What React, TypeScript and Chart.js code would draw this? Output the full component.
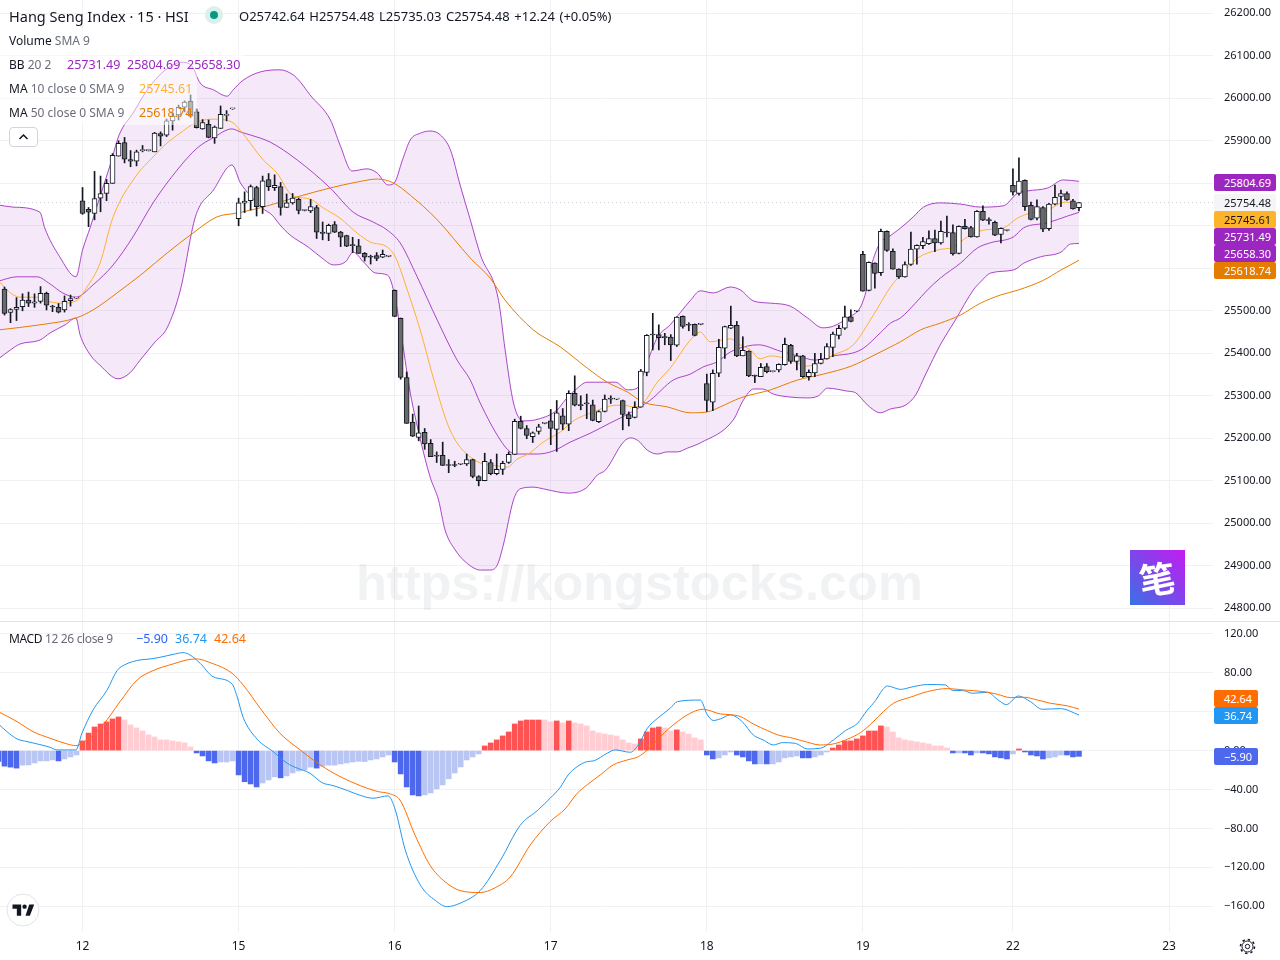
import React, { useEffect, useRef } from "react";
import { Chart, registerables } from "chart.js";

Chart.register(...registerables);

const FONT = '"Noto Sans", sans-serif';
const firstBar = -13;

const opens = [25551,25496,25503,25510,25525,25518,25522,25541,25510,25508,25502,25524,25530,
25759,25739,25729,25765,25776,25800,25864,25896,25856,25852,
25877,25877,25874,25917,25913,25947,25961,25979,25993,25968,
25928,25939,25907,25929,25960,25975,25717,25753,25759,25790,
25745,25809,25790,25792,25743,25754,25762,25736,25735,25743,
25685,25682,25703,25685,25677,25656,25653,25635,25628,25630,
25626,25628,25548,25482,25343,25238,25202,25214,25188,25159,
25160,25138,25138,25139,25140,25150,25110,25100,25143,25117,
25127,25143,25162,25240,25223,25204,25216,25235,25241,25221,
25253,25233,25306,25279,25282,25279,25239,25263,25293,25292,
25289,25256,25249,25273,25355,25444,25444,25438,25438,25419,
25487,25467,25468,25468,25329,25285,25353,25412,25459,25466,
25394,25405,25347,25345,25369,25357,25361,25373,25419,25381,
25394,25345,25354,25376,25387,25414,25442,25459,25486,25499,
25633,25548,25612,25590,25687,25640,25598,25580,25609,25645,
25653,25658,25670,25660,25684,25684,25635,25699,25696,25674,
25734,25713,25708,25680,25689,25795,25776,25807,25748,25718,
25743,25693,25751,25769,25776,25759,25742.64];

const closes = [25494,25503,25508,25525,25518,25521,25541,25513,25509,25497,25522,25529,25530,
25729,25732,25764,25776,25800,25866,25894,25857,25852,25874,
25877,25877,25918,25911,25947,25958,25979,25991,25958,25931,
25943,25908,25932,25962,25960,25975,25754,25758,25792,25745,
25806,25792,25795,25743,25754,25765,25736,25736,25745,25685,
25682,25701,25685,25673,25652,25653,25635,25626,25626,25623,
25633,25628,25487,25343,25235,25205,25213,25187,25157,25158,
25136,25136,25136,25139,25150,25110,25100,25146,25117,25127,
25141,25162,25240,25223,25207,25213,25227,25235,25223,25260,
25233,25306,25278,25277,25281,25242,25263,25292,25292,25292,
25256,25246,25273,25358,25442,25443,25437,25437,25420,25485,
25463,25466,25442,25468,25289,25353,25414,25463,25466,25394,
25407,25347,25346,25367,25357,25357,25374,25421,25381,25394,
25345,25355,25376,25386,25416,25445,25459,25486,25475,25499,
25546,25614,25588,25687,25642,25598,25580,25609,25645,25654,
25663,25670,25660,25687,25683,25634,25699,25693,25674,25734,
25713,25712,25678,25694,25689,25779,25805,25745,25715,25745,
25692,25751,25767,25776,25761,25740,25754.48];

const highs = [25556,25505,25531,25540,25544,25540,25557,25544,25513,25517,25535,25537,25531,
25790,25743,25828,25817,25809,25870,25900,25908,25877,25878,
25889,25878,25920,25921,25951,25966,25984,25994,26008,25975,
25950,25949,25935,25982,25971,25976,25765,25780,25796,25793,
25817,25823,25820,25802,25775,25776,25765,25737,25762,25748,
25709,25704,25710,25687,25678,25673,25668,25637,25631,25637,
25643,25629,25549,25483,25356,25257,25276,25223,25197,25168,
25191,25150,25146,25140,25163,25151,25112,25165,25150,25163,
25146,25168,25245,25252,25230,25215,25233,25236,25268,25289,
25270,25312,25347,25300,25304,25290,25265,25302,25300,25293,
25290,25262,25286,25362,25444,25494,25467,25447,25444,25486,
25488,25472,25469,25469,25351,25361,25433,25464,25511,25475,
25439,25406,25349,25376,25376,25358,25375,25436,25421,25400,
25395,25361,25400,25400,25423,25450,25466,25511,25502,25500,
25640,25615,25613,25692,25688,25646,25599,25615,25685,25655,
25673,25688,25690,25711,25723,25702,25700,25715,25699,25736,
25747,25719,25711,25695,25690,25834,25860,25808,25756,25761,
25745,25753,25796,25784,25780,25762,25754.48];

const lows = [25490,25472,25477,25500,25510,25508,25518,25502,25498,25495,25497,25511,25529,
25727,25698,25714,25733,25759,25800,25864,25848,25839,25841,
25874,25876,25874,25888,25910,25925,25949,25968,25955,25930,
25927,25907,25894,25929,25947,25974,25700,25731,25737,25723,
25729,25783,25783,25725,25743,25751,25728,25735,25731,25670,
25667,25665,25684,25651,25651,25637,25635,25617,25610,25618,
25625,25627,25486,25339,25235,25204,25194,25174,25157,25143,
25136,25119,25133,25138,25136,25107,25088,25100,25114,25114,
25115,25141,25162,25222,25199,25190,25210,25234,25185,25169,
25220,25218,25276,25267,25246,25241,25237,25262,25282,25291,
25220,25229,25248,25273,25347,25408,25408,25420,25383,25416,
25459,25453,25441,25467,25263,25265,25345,25388,25458,25392,
25394,25345,25331,25345,25354,25356,25356,25372,25376,25361,
25343,25337,25345,25375,25386,25392,25434,25456,25474,25498,
25546,25547,25553,25583,25640,25598,25576,25579,25607,25610,
25646,25656,25639,25657,25674,25631,25634,25692,25673,25673,
25712,25704,25677,25660,25688,25772,25772,25736,25714,25714,
25686,25689,25749,25745,25760,25739,25735.03];

const upperBars = [-14,-11.6,-7.1,-6.3,-3.8,-1.1,0,1.3,2.9,4.6,6.1,8.4,10.8,13.4,16.6,18.3,19.6,21.8,24.1,25.1,26.8,29.6,32.9,35.1,36.3,37.9,41.3,42.9,44.9,47.4,49.1,50.9,51.9,53.3,54.6,56.3,57.9,59.6,61.3,62.9,64.6,66.3,69.3,70.4,71.8,73.4,75.9,79.1,80.4,82.1,84.1,86.8,88.8,90.8,92.4,94.1,95.8,97.9,101.3,102.9,105.1,107.9,109.6,111.8,114.6,117.9,120.8,123.3,125.1,127.4,129.6,130.6,131.6,132.9,134.3,136.3,138.4,140.1,142.9,146.3,149.6,153.4,155.8,157.4,160.8,163.4,166];
const upperValues = [25749,25744,25732,25695,25627,25580,25643,25697,25768,25843,25914,25965,26020,26062,26085,26074,26036,26020,26005,26020,26043,26062,26067,26055,26038,26008,25949,25890,25829,25834,25824,25796,25800,25855,25902,25918,25923,25914,25878,25796,25714,25631,25525,25408,25283,25241,25245,25267,25290,25314,25332,25332,25332,25314,25318,25380,25438,25467,25525,25547,25542,25556,25549,25523,25518,25511,25483,25460,25464,25483,25509,25549,25615,25660,25674,25695,25721,25744,25754,25751,25744,25747,25777,25782,25789,25808,25804.69];

const lowerBars = [-14,-12,-10.4,-7.1,-5.4,-2.9,-1.1,-0.4,1.3,2.9,5.9,7.9,9.6,12.1,14.1,16.3,18.8,21.8,24.9,26.3,27.9,29.9,31.6,32.9,34.6,37.6,39.9,41.8,43.8,45.1,46.8,48.8,50.8,51.8,52.9,54.6,56.3,57.9,59.3,60.4,62.1,63.8,66.3,67.9,69.1,70.1,71.8,72.9,75.1,76.8,79.1,80.9,83.9,85.8,87.1,90.1,91.3,92.6,94.1,95.8,97.4,99.1,100.8,102.9,108.4,110.1,111.8,113.3,115.1,117.9,120.8,122.6,124.1,127.4,128.8,130.8,132.9,134.6,137.1,138.8,140.4,142.9,145.4,148.4,149.6,151.3,155.1,156.8,159.6,163,164.6,166];
const lowerValues = [25387,25408,25422,25431,25448,25467,25483,25443,25396,25372,25340,25354,25384,25427,25460,25549,25721,25784,25843,25801,25772,25742,25725,25702,25678,25650,25624,25608,25615,25638,25615,25589,25584,25549,25462,25307,25196,25109,25055,24984,24937,24909,24890,24890,24902,24949,25055,25081,25085,25081,25074,25071,25083,25114,25125,25191,25201,25194,25172,25163,25168,25168,25177,25189,25243,25290,25316,25316,25304,25297,25295,25300,25318,25311,25307,25278,25260,25269,25278,25302,25349,25420,25478,25549,25568,25589,25596,25612,25627,25638,25657,25658.3];

const basisBars = [-14,-10.9,-7.6,-5.4,-3.3,-1.1,1.75,5.1,8.4,11.75,15.75,19.1,21.75,24.9,26.25,27.9,31.25,35.75,41.25,45.1,48.4,50.75,52.9,55.75,59.1,62.4,64.6,66.25,69.6,71.25,72.6,75.75,78.4,81.25,84.6,87.9,91.25,94.6,98.4,101.25,103.4,105.75,107.9,110.75,112.6,116.25,119.1,122.1,125.1,128.4,130.1,132.9,134.6,136.25,138.75,140.75,142.9,146.25,149.1,151.25,155.1,156.75,160.75,164.1,166];
const basisValues = [25570,25580,25580,25563,25542,25532,25561,25608,25674,25754,25831,25883,25907,25928,25921,25914,25897,25855,25789,25732,25709,25690,25660,25580,25478,25384,25337,25283,25196,25168,25163,25163,25170,25191,25212,25236,25260,25290,25337,25351,25368,25380,25403,25417,25420,25405,25394,25384,25394,25401,25412,25448,25471,25483,25518,25549,25577,25612,25648,25660,25674,25695,25707,25723,25731.49];

const ma10Bars = [-14,-12.6,-10.4,-7.6,-5.4,-3.3,-1.1,0.75,2.9,5.1,8.9,11.75,14.1,16.25,18.75,21.75,24.9,26.25,30.1,32.4,34.9,37.9,40.1,42.9,45.75,47.9,50.75,52.1,54.1,56.25,58.4,60.75,62.4,64.6,66.25,69.1,70.75,72.4,74.25,76.75,79.6,81.75,85.1,87.9,90.1,91.75,93.4,95.75,97.9,101.25,102.9,104.6,107.9,109.6,111.25,112.9,114.6,116.25,119.1,120.75,122.9,125.1,128.4,131.75,134.6,136.25,139.1,142.4,145.1,147.4,150.1,153.4,155.75,157.9,160.75,163.75,166];
const ma10Values = [25572,25549,25532,25532,25521,25518,25523,25556,25612,25721,25817,25862,25895,25918,25942,25951,25944,25925,25855,25824,25772,25763,25742,25718,25683,25662,25650,25627,25549,25455,25344,25236,25189,25156,25142,25135,25132,25151,25163,25191,25215,25241,25262,25276,25278,25274,25283,25332,25365,25431,25450,25427,25434,25420,25408,25387,25394,25391,25377,25370,25380,25396,25420,25490,25556,25584,25624,25643,25650,25674,25690,25695,25718,25730,25737,25756,25745.61];

const ma50Bars = [-14,-7.1,-1.1,1.75,5.75,10.1,14.1,18.4,22.4,25.75,30.1,35.75,41.25,45.75,49.1,51.75,54.6,59.1,64.6,67.9,70.4,75.1,79.6,84.1,87.4,90.75,93.4,97.4,101.25,104.1,106.25,109.6,114.6,119.1,123.4,128.1,131.25,134.6,136.25,139.6,142.9,146.25,149.6,152.9,155.9,160.1,163,166];
const ma50Values = [25455,25467,25483,25502,25542,25589,25636,25683,25721,25730,25744,25768,25789,25803,25810,25801,25772,25714,25624,25577,25525,25455,25415,25365,25332,25309,25285,25274,25260,25262,25274,25295,25314,25337,25351,25370,25391,25415,25427,25455,25471,25490,25518,25537,25549,25572,25596,25618.74];

const macdBars = [-14,-12.6,-10.9,-9.25,-7.1,-5.4,-4.25,-1.1,-0.1,1.75,4.1,5.75,7.1,9.6,10.9,12.9,15.1,16.75,17.9,19.6,21.75,24.9,25.75,26.75,29.1,31.75,34.1,35.75,37.9,39.9,41.75,44.1,46.25,48.4,50.9,52.1,53.75,56.25,58.75,60.75,62.9,66.25,69.6,72.9,75.9,77.9,79.6,80.9,82.4,84.1,85.1,87.4,88.75,91.25,92.6,94.1,95.75,97.9,99.1,102.9,104.1,105.1,106.25,107.9,109.9,111.75,113.4,115.1,116.6,118.75,120.75,122.9,125.1,127.1,129.1,130.75,132.1,133.25,134.1,136.25,138.4,140.75,143.75,144.9,146.75,148.25,150.75,152.4,153.9,155.9,157.9,159.9,162.9,166];
const macdValues = [27.4,19.5,12,9.3,6.2,3.4,0.7,0.7,17.8,41.8,62.4,82.3,88.5,93.3,94,96,99,100.8,98.4,89.8,76,68.6,55.6,34.3,11.7,-1,-13,-18,-23.3,-33,-36,-41,-46,-49,-46.6,-61,-102,-138,-154,-160.5,-157,-144,-113,-77,-61,-49,-37.7,-25,-16.5,-11.3,-10.6,-2.7,0.7,-1.7,5.8,23,33,43.6,50.4,52,36.7,31,32.6,36.7,29.8,16,11,5.8,8.2,7.5,1.7,2.4,11,20.6,28,41.8,51.4,62.4,66.5,63,65.8,68,67.6,62,61.7,59,60,52.8,47.3,56.2,50.4,42.5,43.2,36.74];

const signalBars = [-14,-10.9,-8.25,-5.4,-2.6,-1.1,0.75,3.4,6.25,9.1,11.75,15.1,17.4,19.1,20.75,24.9,26.75,29.6,32.9,36.25,39.6,42.9,46.25,49.1,51.25,52.9,55.4,57.9,60.4,62.9,66.25,68.75,71.25,74.6,77.9,80.4,82.4,84.1,86.25,88.4,90.75,92.6,94.1,96.25,99.1,101.75,103.4,106.25,107.9,109.6,111.75,114.1,115.9,118.4,120.75,122.9,125.1,127.4,129.6,131.75,133.4,135.1,137.9,140.75,144.1,146.75,150.1,152.4,154.6,156.75,159.1,161.25,164.1,166];
const signalValues = [40,29.8,19.5,12.7,6.9,5.1,11,26.4,50.4,72.7,82.3,89.2,93.3,94.3,91.6,79.6,67.6,43.6,17.8,0.7,-14.7,-26.7,-36,-42,-44.6,-51,-87,-118,-135,-144,-146,-141,-130,-97,-73,-60,-44,-35,-25,-14.7,-9.6,-6.2,0.7,14.4,29.8,40,42.5,37.7,37,35,27.4,20.6,16,12.7,8.6,5.8,6.9,11.7,18.5,29.8,40,48.7,54.9,60.7,63.8,62.4,60.7,58,54.5,54.9,52,48.7,46,42.64];

const histFirstBar = -14;
const histValues = [-11,-16,-17,-18,-15,-14.7,-12.7,-10.6,-10.6,-9.6,-10.6,-8.6,-6.5,-4.5,
10,18,24.3,27.4,29.5,32.6,34.6,31.5,26.4,23.3,
20.2,16.1,14,11,11,10,9,7.9,3.8,-2.4,
-5.5,-10.6,-12.7,-11.7,-11.7,-10.6,-25,-32,-34.3,-37.4,
-33.3,-30.2,-27,-28,-26,-23,-21,-20,-17,-18,
-16,-15,-15,-13.7,-12.7,-11.7,-11,-11.3,-9.6,-8.6,
-6.5,-4.5,-11.7,-24,-37.4,-45.6,-46.6,-45.6,-43.6,-39.4,
-35.3,-29,-23,-16.8,-9.6,-6.5,-3.4,4.8,7.9,11,
15.1,19.2,27.4,30.5,31.5,31.5,31.5,31.5,29.5,30.5,
28.5,30.5,28.5,27.4,25.4,20.2,18.2,17,16,15,
11,7.9,6.9,12,19.2,23.3,24.3,23.3,20.2,21.3,
19.2,17,13,11,-4.5,-8.6,-7.5,-4.5,-1.4,-4.5,
-6.5,-10.6,-13.7,-13.7,-13.7,-13.7,-11.7,-7.5,-6.5,-5.5,
-7.5,-7.5,-6.5,-4.5,-1.4,2.7,5.8,10,10,12,
15.1,20.2,20.2,25.4,24.3,19.2,13,11,10,8.9,
7.9,6.9,4.8,4.8,2.7,-2.4,-2.4,-2.4,-4.5,-2.4,
-2.4,-3.4,-6.5,-7.5,-8.6,-3.4,1.7,-1.4,-4.5,-5.5,
-8.6,-7.5,-6.5,-4.5,-4.5,-6.5,-5.9];
const histStrong = "DDDDLLLLLLDLLL" + "DDDDDDDLLL" + "LLLLLLLLLD" + "DDDLLLDDDD" + "LLLDLLLLLD" + "LLLLLLLLLL" + "LLDDDDDLLL" + "LLLLLLLDDD" + "DDDDDDDLLD" + "LDLLLLLLLL" + "LLLDDDDLLD" + "LLLLDDLLLD" + "DDDLDLLLLL" + "DDLLLDDDDD" + "DDDDLLLLLL" + "LLLLLDLDDL" + "DDDDDLDDDD" + "DLLLDDD";

const dayBars = [0, 26, 52, 78, 104, 130, 155, 181];
const dayLabels = ["12", "15", "16", "17", "18", "19", "22", "23"];
const priceTicks = [26200,26100,26000,25900,25800,25700,25600,25500,25400,25300,25200,25100,25000,24900,24800];
const macdTicks = [120,80,40,0,-40,-80,-120,-160];

const GRID = "#f1f1f4";
const TEXT = "#131722";
const BB = "#9c27c0";
const MA10C = "#ffb02e";
const MA50C = "#e57c00";
const MACDC = "#2196f3";
const SIGNALC = "#ff6d00";
const XMIN = -13.75;
const XMAX = 188.33;

const line = (bars: number[], values: number[], color: string, order: number, extra: any = {}) => ({
  type: "line",
  data: bars.map((x, i) => ({ x, y: values[i] })),
  borderColor: color,
  borderWidth: 1,
  pointRadius: 0,
  cubicInterpolationMode: "monotone",
  fill: false,
  order,
  ...extra,
});

const fit = (size: { width?: number; height?: number }) => (scale: any) => {
  if (size.width !== undefined) scale.width = size.width;
  if (size.height !== undefined) scale.height = size.height;
  scale.paddingTop = 0;
  scale.paddingBottom = 0;
  scale.paddingLeft = 0;
  scale.paddingRight = 0;
};

const xAxis = (showLabels: boolean, height: number) => ({
  type: "linear",
  min: XMIN,
  max: XMAX,
  offset: false,
  grid: { color: GRID, drawTicks: false, offset: false },
  border: { display: false },
  afterBuildTicks: (axis: any) => {
    axis.ticks = dayBars.map((value) => ({ value }));
  },
  afterFit: fit({ height }),
  ticks: {
    display: showLabels,
    autoSkip: false,
    maxRotation: 0,
    padding: 7,
    color: TEXT,
    font: { family: FONT, size: 12 },
    callback: (v: number) => dayLabels[dayBars.indexOf(v)] ?? "",
  },
});

const yAxis = (min: number, max: number, values: number[]) => ({
  type: "linear",
  position: "right",
  min,
  max,
  grid: { color: GRID, drawTicks: false },
  border: { display: false },
  afterBuildTicks: (axis: any) => {
    axis.ticks = values.map((value) => ({ value }));
  },
  afterFit: fit({ width: 67 }),
  ticks: {
    autoSkip: false,
    padding: 11,
    color: TEXT,
    font: { family: FONT, size: 11 },
    callback: (v: number) => v.toFixed(2).replace("-", "\u2212"),
  },
});

const baseOptions = {
  responsive: false,
  animation: false,
  devicePixelRatio: 1,
  layout: { padding: 0 },
  plugins: { legend: { display: false }, tooltip: { enabled: false } },
  events: [],
};

const Row = ({ top, children, color }: any) => (
  <div style={{ position: "absolute", left: 0, top, height: 24, lineHeight: "24px", padding: "0 4px 0 9px", whiteSpace: "nowrap", fontSize: 12, color: color ?? "#6a6d78", background: "rgba(255,255,255,0.5)" }}>{children}</div>
);

const Value = ({ color, left, children }: any) => (
  <span style={{ position: "absolute", left, top: 0, color, fontSize: 12.5, whiteSpace: "nowrap" }}>{children}</span>
);

const Badge = ({ top, width, bg, color, children }: any) => (
  <div style={{ position: "absolute", left: 1214, top, width, height: 17, lineHeight: "17px", background: bg, color, fontSize: 11, paddingLeft: 10, boxSizing: "border-box", borderRadius: 2 }}>{children}</div>
);

export default function App() {
  const priceRef = useRef<HTMLCanvasElement>(null);
  const macdRef = useRef<HTMLCanvasElement>(null);

  useEffect(() => {
    const bars = opens.map((_, i) => firstBar + i);
    const price = new Chart(priceRef.current!, {
      type: "line",
      data: {
        datasets: [
          {
            type: "bar",
            data: bars.map((x, i) => ({ x, y: [Math.min(opens[i], closes[i]), Math.max(opens[i], closes[i])] })),
            backgroundColor: closes.map((c, i) => (c >= opens[i] ? "#ffffff" : "#6a6a6a")),
            borderColor: TEXT,
            borderWidth: 1,
            borderSkipped: false,
            barThickness: 5,
            minBarLength: 1,
            grouped: false,
            order: 0,
          },
          {
            type: "bar",
            data: bars.map((x, i) => ({ x, y: [lows[i], highs[i]] })),
            backgroundColor: TEXT,
            borderWidth: 0,
            barThickness: 1,
            grouped: false,
            order: 1,
          },
          line(ma50Bars, ma50Values, MA50C, 2),
          line(ma10Bars, ma10Values, MA10C, 3),
          line(basisBars, basisValues, BB, 4, { borderColor: "rgba(156,39,192,0.85)" }),
          line(lowerBars, lowerValues, BB, 5, { borderColor: "rgba(156,39,192,0.85)" }),
          line(upperBars, upperValues, BB, 6, { borderColor: "rgba(156,39,192,0.85)", fill: { target: 5 }, backgroundColor: "rgba(156,39,192,0.1)" }),
          line([XMIN, XMAX], [closes[closes.length - 1], closes[closes.length - 1]], "#c8ccd6", 7, { borderDash: [1, 3] }),
        ],
      } as any,
      options: {
        ...baseOptions,
        scales: { x: xAxis(false, 0), y: yAxis(24770.1, 26231.3, priceTicks) },
      } as any,
    });
    const macd = new Chart(macdRef.current!, {
      type: "line",
      data: {
        datasets: [
          {
            type: "bar",
            data: histValues.map((y, i) => ({ x: histFirstBar + i, y })),
            backgroundColor: histValues.map((v, i) => {
              const strong = histStrong[i] === "D";
              return v >= 0 ? (strong ? "#ff5252" : "#ffcdd2") : strong ? "#4d68ec" : "#b9c6f3";
            }),
            borderWidth: 0,
            barThickness: 5,
            grouped: false,
            order: 3,
          },
          line(macdBars, macdValues, MACDC, 1),
          line(signalBars, signalValues, SIGNALC, 0),
        ],
      } as any,
      options: {
        ...baseOptions,
        scales: { x: xAxis(true, 28), y: yAxis(-186.6, 132.3, macdTicks) },
      } as any,
    });
    return () => {
      price.destroy();
      macd.destroy();
    };
  }, []);

  return (
    <div style={{ position: "relative", width: 1280, height: 960, overflow: "hidden", background: "#fff", fontFamily: FONT, color: TEXT }}>
      <style>{"html,body{margin:0;padding:0;background:#fff}"}</style>
      <canvas ref={priceRef} width={1280} height={621} style={{ position: "absolute", left: 0, top: 0, display: "block" }} />
      <canvas ref={macdRef} width={1280} height={338} style={{ position: "absolute", left: 0, top: 622, display: "block" }} />
      <div style={{ position: "absolute", left: 0, top: 621, width: 1280, height: 1, background: "#e0e3eb" }} />

      <div style={{ position: "absolute", left: 356, top: 553, width: 566, textAlign: "center", fontFamily: '"Liberation Sans", sans-serif', fontWeight: 700, fontSize: 50.5, lineHeight: "60px", color: "rgba(120,123,134,0.1)", whiteSpace: "nowrap" }}>https://kongstocks.com</div>
      <div style={{ position: "absolute", left: 1130, top: 550, width: 55, height: 55, background: "linear-gradient(45deg,#3a70e6,#c41bf0)", color: "#fff", textAlign: "center", fontFamily: '"Noto Sans CJK SC"', fontWeight: 700, fontSize: 36, lineHeight: "55px" }}>
        <span style={{ display: "inline-block", transform: "rotate(-8deg)" }}>笔</span>
      </div>

      <div style={{ position: "absolute", left: 9, top: 6, fontSize: 14.5, lineHeight: "20px", whiteSpace: "nowrap" }}>Hang Seng Index · 15 · HSI</div>
      <div style={{ position: "absolute", left: 205, top: 6, width: 18, height: 18, borderRadius: 9, background: "#daf0ec" }} />
      <div style={{ position: "absolute", left: 210, top: 11, width: 8, height: 8, borderRadius: 4, background: "#089981" }} />
      <div style={{ position: "absolute", left: 239, top: 6, fontSize: 13, wordSpacing: 1.2, lineHeight: "20px", whiteSpace: "nowrap" }}>O25742.64 H25754.48 L25735.03 C25754.48 +12.24 (+0.05%)</div>

      <Row top={29}><span style={{ color: TEXT }}>Volume</span> SMA 9</Row>
      <div style={{ position: "absolute", left: 0, top: 53, height: 24, lineHeight: "24px", width: 245, background: "rgba(255,255,255,0.5)", fontSize: 12, color: "#6a6d78", whiteSpace: "nowrap" }}>
        <span style={{ position: "absolute", left: 9 }}><span style={{ color: TEXT }}>BB</span> 20 2</span>
        <Value color={BB} left={67}>25731.49</Value>
        <Value color={BB} left={127}>25804.69</Value>
        <Value color={BB} left={187}>25658.30</Value>
      </div>
      <div style={{ position: "absolute", left: 0, top: 77, height: 24, lineHeight: "24px", width: 197, background: "rgba(255,255,255,0.5)", fontSize: 12, color: "#6a6d78", whiteSpace: "nowrap" }}>
        <span style={{ position: "absolute", left: 9 }}><span style={{ color: TEXT }}>MA</span> 10 close 0 SMA 9</span>
        <Value color={MA10C} left={139}>25745.61</Value>
      </div>
      <div style={{ position: "absolute", left: 0, top: 101, height: 24, lineHeight: "24px", width: 197, background: "rgba(255,255,255,0.5)", fontSize: 12, color: "#6a6d78", whiteSpace: "nowrap" }}>
        <span style={{ position: "absolute", left: 9 }}><span style={{ color: TEXT }}>MA</span> 50 close 0 SMA 9</span>
        <Value color={MA50C} left={139}>25618.74</Value>
      </div>
      <div style={{ position: "absolute", left: 9, top: 127, width: 29, height: 20, boxSizing: "border-box", border: "1px solid #d1d4dc", borderRadius: 4, background: "#fff" }}>
        <svg width="27" height="18"><path d="M9.5 11 L13.5 7 L17.5 11" fill="none" stroke={TEXT} strokeWidth="1.5" /></svg>
      </div>

      <div style={{ position: "absolute", left: 0, top: 627, height: 24, lineHeight: "24px", width: 250, fontSize: 12, letterSpacing: -0.35, whiteSpace: "nowrap", color: "#6a6d78" }}>
        <span style={{ position: "absolute", left: 9 }}><span style={{ color: TEXT }}>MACD</span> 12 26 close 9</span>
        <span style={{ letterSpacing: 0 }}>
          <Value color="#2962ff" left={136}>−5.90</Value>
          <Value color={MACDC} left={175}>36.74</Value>
          <Value color={SIGNALC} left={214}>42.64</Value>
        </span>
      </div>

      <Badge top={174} width={62} bg={BB} color="#fff">25804.69</Badge>
      <Badge top={194} width={62} bg="#f5f5f5" color={TEXT}>25754.48</Badge>
      <Badge top={211} width={62} bg="#fdb32a" color={TEXT}>25745.61</Badge>
      <Badge top={228} width={62} bg={BB} color="#fff">25731.49</Badge>
      <Badge top={245} width={62} bg={BB} color="#fff">25658.30</Badge>
      <Badge top={262} width={62} bg={MA50C} color="#fff">25618.74</Badge>
      <Badge top={690} width={44} bg={SIGNALC} color="#fff">42.64</Badge>
      <Badge top={707} width={44} bg={MACDC} color="#fff">36.74</Badge>
      <Badge top={748} width={44} bg="#4d68ec" color="#fff">−5.90</Badge>

      <svg style={{ position: "absolute", left: 6, top: 893 }} width="34" height="34">
        <circle cx="17" cy="17" r="16" fill="#fff" stroke="#e0e3eb" />
        <g transform="translate(6.5,11.5) scale(0.62)" fill={TEXT}>
          <path d="M14 18H7V7H0V0h14v18zM28 18h-7l6-18h8l-7 18z" />
          <circle cx="19.5" cy="3.5" r="3.5" />
        </g>
      </svg>
      <svg style={{ position: "absolute", left: 1239, top: 938 }} width="17" height="17">
        <circle cx="8.5" cy="8.5" r="5.5" fill="none" stroke={TEXT} strokeWidth="1" />
        <circle cx="8.5" cy="8.5" r="7" fill="none" stroke={TEXT} strokeWidth="1.6" strokeDasharray="2.4 3.1" />
        <circle cx="8.5" cy="8.5" r="2.2" fill="none" stroke={TEXT} strokeWidth="1" />
      </svg>
    </div>
  );
}
